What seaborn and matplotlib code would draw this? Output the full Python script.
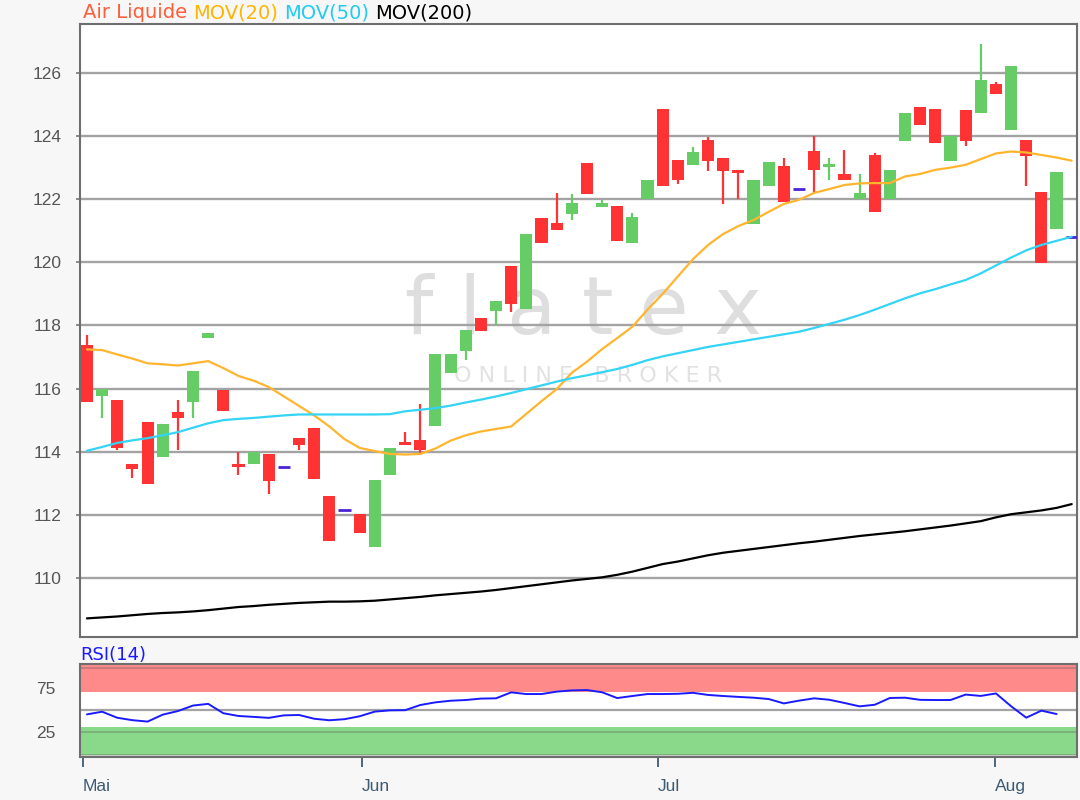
import numpy as np
import pandas as pd
import matplotlib
matplotlib.use("Agg")
from matplotlib import pyplot as plt
import seaborn as sns

# daily candles
open_ = [117.39, 115.77, 115.63, 113.60, 114.93, 113.82, 115.25, 115.58, 117.60, 115.95,
         113.62, 113.62, 113.93, 113.52, 114.43, 114.74, 112.59, 112.14, 112.03, 110.98,
         113.25, 114.30, 114.37, 114.80, 116.50, 117.18, 118.24, 118.45, 119.88, 118.51,
         121.39, 121.26, 121.53, 123.16, 121.74, 121.79, 120.61, 122.00, 124.86, 123.25,
         123.07, 123.89, 123.30, 122.93, 121.20, 122.43, 123.05, 122.32, 123.52, 123.02,
         122.80, 122.00, 123.39, 122.00, 123.84, 124.92, 124.86, 123.20, 124.83, 124.72,
         125.65, 124.20, 123.88, 122.22, 121.04, 120.79]
high = [117.71, 115.98, 115.63, 113.60, 114.93, 114.87, 115.63, 116.57, 117.76, 115.95,
        113.98, 114.00, 113.93, 113.52, 114.43, 114.74, 112.59, 112.14, 112.03, 113.11,
        114.11, 114.62, 115.51, 117.09, 117.10, 117.85, 118.24, 118.79, 119.88, 120.90,
        121.39, 122.21, 122.16, 123.16, 121.97, 121.79, 121.57, 122.61, 124.86, 123.25,
        123.66, 123.98, 123.30, 122.93, 122.61, 123.18, 123.30, 122.32, 124.01, 123.30,
        123.57, 122.80, 123.47, 122.93, 124.73, 124.92, 124.86, 124.00, 124.83, 126.92,
        125.70, 126.21, 123.88, 122.22, 122.85, 120.79]
low = [115.58, 115.07, 114.06, 113.18, 112.99, 113.82, 114.06, 115.07, 117.60, 115.28,
       113.26, 113.62, 112.66, 113.52, 114.07, 113.12, 111.16, 112.14, 111.41, 110.98,
       113.25, 114.20, 113.95, 114.80, 116.50, 116.92, 117.82, 118.00, 118.43, 118.51,
       120.60, 121.03, 121.35, 122.18, 121.74, 120.68, 120.61, 122.00, 122.41, 122.48,
       123.07, 122.88, 121.84, 122.00, 121.20, 122.43, 121.91, 122.32, 122.21, 122.61,
       122.62, 122.00, 121.59, 122.00, 123.84, 124.35, 123.79, 123.20, 123.70, 124.72,
       125.33, 124.20, 122.43, 119.98, 121.04, 120.79]
close = [115.58, 115.98, 114.13, 113.45, 112.99, 114.87, 115.07, 116.57, 117.76, 115.28,
         113.52, 114.00, 113.07, 113.52, 114.20, 113.12, 111.16, 112.14, 111.41, 113.11,
         114.11, 114.20, 114.07, 117.09, 117.10, 117.85, 117.82, 118.79, 118.69, 120.90,
         120.60, 121.03, 121.89, 122.18, 121.89, 120.68, 121.44, 122.61, 122.41, 122.61,
         123.50, 123.20, 122.88, 122.82, 122.61, 123.18, 121.91, 122.32, 122.93, 123.10,
         122.62, 122.21, 121.59, 122.93, 124.73, 124.35, 123.79, 124.00, 123.83, 125.78,
         125.33, 126.21, 123.38, 119.98, 122.85, 120.79]

mov20 = [117.24, 117.22, 117.08, 116.95, 116.80, 116.77, 116.73, 116.80, 116.87, 116.65,
         116.40, 116.25, 116.05, 115.75, 115.45, 115.15, 114.80, 114.40, 114.12, 114.02,
         113.93, 113.91, 113.93, 114.10, 114.35, 114.52, 114.64, 114.72, 114.80, 115.20,
         115.60, 115.98, 116.50, 116.85, 117.25, 117.60, 117.96, 118.50, 119.00, 119.55,
         120.10, 120.55, 120.90, 121.15, 121.34, 121.60, 121.85, 121.98, 122.20, 122.32,
         122.45, 122.50, 122.51, 122.51, 122.72, 122.80, 122.93, 123.00, 123.09, 123.27,
         123.45, 123.51, 123.48, 123.40, 123.32, 123.22]
mov50 = [114.03, 114.15, 114.28, 114.36, 114.43, 114.52, 114.62, 114.76, 114.90, 115.00,
         115.04, 115.07, 115.11, 115.15, 115.18, 115.18, 115.18, 115.18, 115.18, 115.18,
         115.19, 115.28, 115.33, 115.38, 115.46, 115.56, 115.65, 115.75, 115.86, 115.98,
         116.10, 116.22, 116.33, 116.42, 116.52, 116.62, 116.75, 116.90, 117.02, 117.12,
         117.22, 117.32, 117.40, 117.48, 117.56, 117.64, 117.72, 117.80, 117.92, 118.05,
         118.18, 118.33, 118.50, 118.68, 118.86, 119.02, 119.15, 119.30, 119.44, 119.65,
         119.90, 120.15, 120.38, 120.55, 120.68, 120.81]
mov200 = [108.72, 108.75, 108.78, 108.82, 108.86, 108.89, 108.91, 108.94, 108.98, 109.03,
          109.08, 109.11, 109.15, 109.18, 109.21, 109.23, 109.25, 109.25, 109.26, 109.28,
          109.32, 109.36, 109.40, 109.45, 109.49, 109.53, 109.57, 109.62, 109.68, 109.74,
          109.80, 109.86, 109.92, 109.97, 110.02, 110.10, 110.20, 110.32, 110.44, 110.52,
          110.62, 110.72, 110.80, 110.86, 110.92, 110.98, 111.04, 111.10, 111.15, 111.21,
          111.27, 111.33, 111.38, 111.43, 111.48, 111.54, 111.60, 111.66, 111.73, 111.80,
          111.92, 112.02, 112.08, 112.14, 112.22, 112.34]
rsi14 = [45.1, 48.1, 41.3, 38.6, 37.0, 44.8, 48.8, 55.0, 56.9, 46.4,
         43.3, 42.3, 41.2, 44.0, 44.4, 40.2, 38.5, 39.7, 43.0, 48.2,
         49.6, 49.8, 55.6, 58.6, 60.4, 61.2, 62.8, 63.1, 69.8, 67.9,
         67.9, 70.6, 72.0, 72.4, 69.9, 63.4, 65.7, 67.9, 67.9, 68.2,
         69.3, 66.9, 65.7, 64.7, 63.8, 62.3, 57.4, 60.5, 63.1, 61.5,
         57.9, 54.1, 55.9, 63.5, 63.8, 61.4, 61.2, 61.2, 67.3, 65.8,
         68.6, 54.2, 41.4, 49.3, 45.5]

month_pos = [-0.26, 18.15, 37.7, 59.95]
month_labels = ["Mai", "Jun", "Jul", "Aug"]
price_ticks = [110, 112, 114, 116, 118, 120, 122, 124, 126]
rsi_ticks = [25, 75]

sns.set_style("white")
plt.rcParams["font.family"] = ["Liberation Sans", "DejaVu Sans"]

df = pd.DataFrame({"open": open_, "high": high, "low": low, "close": close,
                   "mov20": mov20, "mov50": mov50, "mov200": mov200})
df["idx"] = np.arange(len(df))
rsi_df = pd.DataFrame({"idx": np.arange(len(rsi14)), "rsi": rsi14})

RED = "#ff3333"
GREEN = "#66cc66"
DOJI = "#4b22d6"
GRID = "#a3a3a3"

fig = plt.figure(figsize=(10.8, 8), dpi=100, facecolor="#f7f7f7")
ax = fig.add_axes([80 / 1080, 1 - 637 / 800, 997 / 1080, 613 / 800])
ax_rsi = fig.add_axes([80 / 1080, 1 - 757 / 800, 997 / 1080, 93 / 800])

# watermark
ax.text(0.505, 0.53, "f l a t e x", transform=ax.transAxes, ha="center", va="center",
        fontsize=58, color="#dedede", family="DejaVu Sans", zorder=0)
ax.text(0.51, 0.425, "O N L I N E   B R O K E R", transform=ax.transAxes, ha="center",
        va="center", fontsize=16, color="#e2e2e2", family="DejaVu Sans", zorder=0)

# candles
up = df[df["close"] > df["open"]]
down = df[df["close"] < df["open"]]
flat = df[df["close"] == df["open"]]
for part, col in [(up, GREEN), (down, RED)]:
    ax.vlines(part["idx"], part["low"], part["high"], color=col, lw=1.6, zorder=3)
    ax.bar(part["idx"], (part["close"] - part["open"]).abs(),
           bottom=part[["open", "close"]].min(axis=1), width=0.8, color=col,
           linewidth=0, zorder=4)
ax.hlines(flat["close"], flat["idx"] - 0.4, flat["idx"] + 0.4, color=DOJI, lw=2, zorder=4)

sns.lineplot(data=df, x="idx", y="mov20", ax=ax, color="#ffb52e", lw=1.6, zorder=5)
sns.lineplot(data=df, x="idx", y="mov50", ax=ax, color="#33d4f5", lw=1.6, zorder=5)
sns.lineplot(data=df, x="idx", y="mov200", ax=ax, color="black", lw=1.6, zorder=5)

ax.set_xlim(-0.46, 65.35)
ax.set_ylim(108.13, 127.55)
ax.set_yticks(price_ticks)
ax.set_xticks([])
ax.yaxis.grid(True, color=GRID, lw=1.7)
ax.set_axisbelow(True)
ax.set_xlabel("")
ax.set_ylabel("")
ax.tick_params(axis="y", left=True, length=3, width=1.2, color="#777777",
               labelsize=12.5, labelcolor="#555555", pad=10)
for s in ax.spines.values():
    s.set_color("#6e6e6e")
    s.set_linewidth(1.5)

# RSI panel
ax_rsi.axhspan(70, 100, color="#ff8a8a", lw=0, zorder=1)
ax_rsi.axhspan(0, 31, color="#8ad98a", lw=0, zorder=1)
for lvl in [0, 25, 97]:
    ax_rsi.axhline(lvl, color="#555555", lw=1.2, alpha=0.35, zorder=2)
ax_rsi.axhline(50, color=GRID, lw=1.6, zorder=2)
sns.lineplot(data=rsi_df, x="idx", y="rsi", ax=ax_rsi, color="#1a1aff", lw=1.4, zorder=3)
ax_rsi.set_xlim(-0.46, 65.35)
ax_rsi.set_ylim(-2.7, 101.6)
ax_rsi.set_yticks(rsi_ticks)
ax_rsi.set_xticks(month_pos, month_labels)
for lab in ax_rsi.get_xticklabels():
    lab.set_horizontalalignment("left")
ax_rsi.set_xlabel("")
ax_rsi.set_ylabel("")
ax_rsi.tick_params(axis="y", left=False, labelsize=12.5, labelcolor="#555555", pad=14)
ax_rsi.tick_params(axis="x", bottom=True, direction="out", length=7, width=1.3,
                   color="#3d5a73", labelsize=12.5, labelcolor="#3d5a73", pad=9)
for s in ax_rsi.spines.values():
    s.set_color("#6e6e6e")
    s.set_linewidth(1.5)

# header texts
fig.canvas.draw()
renderer = fig.canvas.get_renderer()
x0 = 83 / 1080
for word, col in [("Air Liquide", "#ff5c3a"), ("MOV(20)", "#ffb400"),
                  ("MOV(50)", "#22ccee"), ("MOV(200)", "black")]:
    t = fig.text(x0, 1 - 13 / 800, word, color=col, fontsize=14, va="center",
                 family="DejaVu Sans")
    bb = t.get_window_extent(renderer)
    x0 = (bb.x1 + 6) / 1080
fig.text(80 / 1080, 1 - 655 / 800, "RSI(14)", color="#1a1aff", fontsize=13,
         va="center", family="DejaVu Sans")

fig.savefig("out.png", dpi=100, facecolor=fig.get_facecolor())
